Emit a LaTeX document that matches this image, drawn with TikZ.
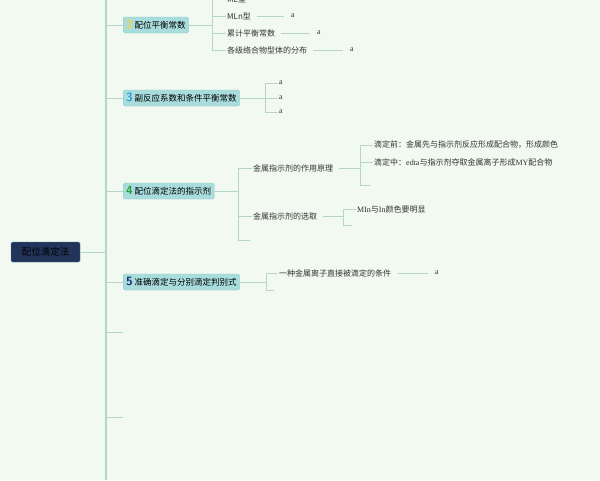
\documentclass[tikz,border=0pt]{standalone}
\usepackage{fontspec}
\newfontfamily\cjk{Noto Sans CJK SC}
\setmainfont{Liberation Serif}
\definecolor{lineC}{HTML}{B4D6C8}
\definecolor{boxF}{HTML}{A9DCDD}
\definecolor{boxB}{HTML}{8CC8C8}
\definecolor{bgC}{HTML}{F1F9F0}
\definecolor{navyC}{HTML}{22345A}
\begin{document}
\begin{tikzpicture}[x=1pt,y=-1pt,
  ln/.style={draw=lineC,line width=0.8pt},
  topic/.style={draw=boxB,fill=boxF,rounded corners=1.5pt,inner xsep=3pt,inner ysep=2pt,minimum height=16pt,anchor=west,font=\cjk\fontsize{8.5}{10}\selectfont},
  leaf/.style={anchor=west,inner sep=1pt,font=\cjk\fontsize{8}{9}\selectfont,text=black!80},
  aa/.style={anchor=west,inner sep=1pt,font=\fontsize{8}{9}\selectfont,text=black!80}]
\fill[bgC] (0,0) rectangle (600,480);
\useasboundingbox (0,0) rectangle (600,480);
% trunk
\draw[ln,line width=1.2pt] (106,0) -- (106,480);
\node[draw=boxB!50!navyC,fill=navyC,rounded corners=1.5pt,minimum width=69pt,minimum height=20pt,font=\cjk\fontsize{9.5}{11}\selectfont,text=black] (root) at (45.5,252) {配位滴定法};
\draw[ln] (root.east) -- (106,252);
% topics
\node[topic] (t2) at (123,25) {\textbf{\color[HTML]{F3D33C}\sffamily\fontsize{12}{12}\selectfont 2} 配位平衡常数};
\node[topic] (t3) at (123,98) {\textbf{\color[HTML]{2A9BD8}\sffamily\fontsize{12}{12}\selectfont 3} 副反应系数和条件平衡常数};
\node[topic] (t4) at (123,191) {\textbf{\color[HTML]{1FA032}\sffamily\fontsize{12}{12}\selectfont 4} 配位滴定法的指示剂};
\node[topic] (t5) at (123,282) {\textbf{\color[HTML]{1E2F7A}\sffamily\fontsize{12}{12}\selectfont 5} 准确滴定与分别滴定判别式};
\foreach \n/\y in {t2/25,t3/98,t4/191,t5/282}{\draw[ln] (106,\y) -- (\n.west);}
\coordinate (s1) at (123,332); \coordinate (s2) at (123,417);
\draw[ln] (106,332) -- (s1); \draw[ln] (106,417) -- (s2);
% t2 children
\draw[ln] (t2.east) -- (212,25);
\draw[ln] (212,-5) -- (212,50);
\foreach \t/\y/\ax [count=\i] in {ML型/-1/285, MLn型/16/290, 累计平衡常数/33/316, 各级络合物型体的分布/50/349}{
  \node[leaf] (c\i) at (226,\y) {\t};
  \node[aa] (a\i) at (\ax,\y) {a};
  \draw[ln] (212,\y) -- (c\i.west);
  \draw[ln] ([xshift=5pt]c\i.east) -- ([xshift=-6pt]a\i.west);
}
% t3 children
\draw[ln] (t3.east) -- (265,98);
\draw[ln] (265,83) -- (265,112);
\foreach \y [count=\i] in {83,98,112}{
  \node[aa] (b\i) at (278,\y) {a};
  \draw[ln] (265,\y) -- (b\i.west);
}
% t4 children
\draw[ln] (t4.east) -- (238,191);
\draw[ln] (238,168) -- (238,240);
\node[leaf] (p1) at (252,168) {金属指示剂的作用原理};
\node[leaf] (p2) at (252,216) {金属指示剂的选取};
\coordinate (p3) at (250,240);
\draw[ln] (238,168) -- (p1.west);
\draw[ln] (238,216) -- (p2.west);
\draw[ln] (238,240) -- (p3);
\draw[ln] ([xshift=5pt]p1.east) -- (360,168);
\draw[ln] (360,145) -- (360,185);
\node[leaf] (q1) at (373,145) {滴定前：金属先与指示剂反应形成配合物，形成颜色};
\node[leaf] (q2) at (373,162) {滴定中：{\rmfamily edta}与指示剂夺取金属离子形成{\rmfamily MY}配合物};
\coordinate (q3) at (370,185);
\draw[ln] (360,145) -- (q1.west); \draw[ln] (360,162) -- (q2.west); \draw[ln] (360,185) -- (q3);
\draw[ln] ([xshift=5pt]p2.east) -- (343,216);
\draw[ln] (343,209) -- (343,225);
\node[leaf] (r1) at (356,209) {{\rmfamily MIn}与{\rmfamily In}颜色要明显};
\coordinate (r2) at (352,225);
\draw[ln] (343,209) -- (r1.west); \draw[ln] (343,225) -- (r2);
% t5 children
\draw[ln] (t5.east) -- (266,282);
\draw[ln] (266,273) -- (266,290);
\node[leaf] (u1) at (278,273) {一种金属离子直接被滴定的条件};
\node[aa] (u2) at (434,273) {a};
\coordinate (u3) at (274,290);
\draw[ln] (266,273) -- (u1.west); \draw[ln] (266,290) -- (u3);
\draw[ln] ([xshift=6pt]u1.east) -- ([xshift=-6pt]u2.west);
\end{tikzpicture}
\end{document}
